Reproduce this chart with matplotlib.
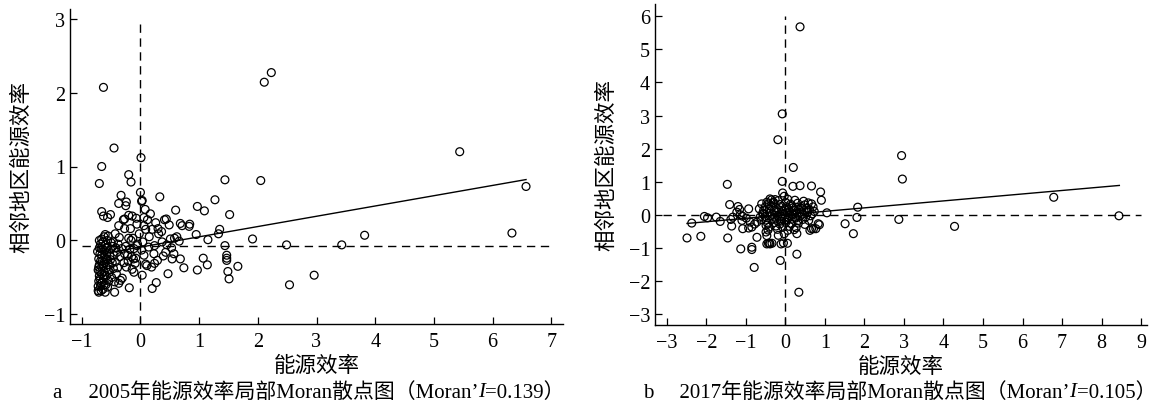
import numpy as np
import matplotlib
matplotlib.use("Agg")
import matplotlib.pyplot as plt

plt.rcParams['font.family'] = ['Liberation Serif', 'Noto Sans CJK SC']
plt.rcParams['axes.unicode_minus'] = True

# 2005 local Moran scatter (standardised efficiency, spatial lag)
pts_2005 = [
    # outliers / scattered
    (-0.63, 2.07), (2.11, 2.14), (2.23, 2.27), (-0.45, 1.25), (-0.66, 1.00),
    (-0.70, 0.77), (0.01, 1.12), (-0.20, 0.89), (-0.16, 0.79), (0.00, 0.65),
    (0.03, 0.54), (0.02, 0.53), (-0.33, 0.61), (-0.24, 0.52), (-0.37, 0.50),
    (-0.25, 0.47), (0.33, 0.59), (-0.66, 0.39), (-0.63, 0.33), (-0.56, 0.31),
    (-0.51, 0.35), (-0.37, 0.20), (-0.27, 0.29), (-0.20, 0.34), (-0.14, 0.33),
    (-0.07, 0.30), (0.06, 0.31), (0.17, 0.36), (-0.27, 0.16), (-0.17, 0.16),
    (-0.06, 0.22), (0.06, 0.20), (0.09, 0.15), (0.20, 0.15), (0.30, 0.16),
    (0.41, 0.28), (0.44, 0.29), (0.60, 0.41), (0.49, 0.21), (0.68, 0.23),
    (0.71, 0.20), (0.84, 0.22), (0.83, 0.19), (0.97, 0.46), (1.09, 0.40),
    (1.27, 0.55), (1.44, 0.82), (2.05, 0.81), (1.52, 0.35), (1.35, 0.15),
    (1.33, 0.09), (0.95, 0.08), (1.15, 0.01), (1.91, 0.02), (3.82, 0.07),
    (2.49, -0.06), (3.43, -0.06), (1.44, -0.07), (1.47, -0.20), (1.47, -0.24),
    (1.47, -0.27), (1.49, -0.42), (1.51, -0.52), (1.66, -0.35), (1.07, -0.24),
    (1.14, -0.33), (0.97, -0.40), (0.74, -0.37), (0.68, -0.25), (0.54, -0.25),
    (0.57, -0.18), (0.47, -0.45), (0.37, -0.02), (0.51, 0.02), (0.58, 0.03),
    (0.66, -0.01), (0.24, -0.31), (0.27, -0.57), (0.20, -0.65), (0.03, -0.47),
    (0.09, -0.32), (0.11, -0.34), (0.06, -0.20), (0.23, -0.18), (0.14, -0.09),
    (0.24, -0.07), (0.39, -0.21), (0.43, -0.16), (2.96, -0.47), (2.54, -0.60),
    (-0.19, -0.64), (-0.44, -0.70), (-0.71, -0.70), (-0.72, -0.68), (-0.11, -0.43),
    (-0.14, -0.39), (-0.34, -0.54), (-0.37, -0.58), (-0.31, -0.51), (-0.09, -0.31),
    (-0.21, -0.28), (-0.27, -0.18), (-0.11, -0.11), (-0.06, -0.07), (-0.20, 0.03),
    (-0.13, 0.03), (-0.43, 0.09), (-0.46, -0.02), (-0.40, -0.16), (-0.43, -0.29),
    (-0.46, -0.38), (-0.41, -0.45), (5.44, 1.20), (6.57, 0.73), (6.33, 0.10),
    (0.15, 0.05), (0.31, 0.09), (0.45, -0.06), (0.02, -0.13), (-0.02, 0.09),
    (0.12, 0.28), (0.26, 0.24), (0.36, 0.12), (0.19, -0.36), (0.29, -0.27),
    (-0.32, -0.11), (-0.24, -0.36), (-0.15, -0.22), (-0.36, 0.04), (-0.29, 0.28),
    (-0.08, -0.24), (0.04, -0.02), (0.53, -0.10), (0.62, 0.05), (0.08, 0.42),
    # dense cluster at the left
    (-0.72, -0.62), (-0.71, -0.55), (-0.70, -0.48), (-0.72, -0.40), (-0.70, -0.33),
    (-0.71, -0.25), (-0.69, -0.18), (-0.70, -0.10), (-0.68, -0.05), (-0.66, 0.02),
    (-0.67, -0.58), (-0.66, -0.45), (-0.66, -0.36), (-0.65, -0.28), (-0.66, -0.20),
    (-0.64, -0.12), (-0.64, -0.66), (-0.63, -0.52), (-0.62, -0.42), (-0.62, -0.30),
    (-0.61, -0.22), (-0.61, -0.14), (-0.60, -0.06), (-0.62, 0.05), (-0.59, -0.60),
    (-0.58, -0.48), (-0.58, -0.37), (-0.57, -0.26), (-0.57, -0.17), (-0.56, -0.09),
    (-0.56, 0.00), (-0.54, -0.55), (-0.53, -0.43), (-0.53, -0.33), (-0.52, -0.21),
    (-0.51, -0.12), (-0.50, -0.03), (-0.49, -0.50), (-0.48, -0.30), (-0.47, -0.08),
    (-0.60, 0.08), (-0.55, 0.06), (-0.64, -0.02), (-0.68, -0.28), (-0.69, -0.52),
    (-0.67, -0.68), (-0.60, -0.70), (-0.71, -0.36), (-0.69, -0.42), (-0.73, -0.15),
    (-0.67, -0.11), (-0.63, -0.34), (-0.65, -0.56), (-0.61, -0.47), (-0.59, -0.25),
    (-0.58, -0.10), (-0.55, -0.40), (-0.56, -0.63), (-0.51, -0.26), (-0.45, -0.20),
    (-0.42, -0.10), (-0.38, -0.05), (-0.35, -0.22), (-0.44, -0.56), (-0.39, -0.37),
    (-0.28, -0.30), (-0.25, -0.08), (-0.22, -0.20), (-0.18, -0.12), (-0.16, 0.00),
    (-0.12, -0.25), (-0.05, -0.05), (-0.70, 0.00), (-0.68, -0.62), (-0.62, -0.60),
]

# 2017 local Moran scatter
pts_2017 = [
    (0.37, 5.68), (-0.08, 3.05), (-0.19, 2.27), (0.20, 1.43), (-0.08, 1.01),
    (-1.47, 0.92), (0.19, 0.86), (0.37, 0.88), (0.66, 0.87), (0.89, 0.69),
    (0.91, 0.44), (1.05, 0.06), (1.83, 0.23), (1.81, -0.08), (1.51, -0.27),
    (1.72, -0.57), (-2.49, -0.70), (-2.37, -0.25), (-2.14, -0.65), (-2.05, -0.05),
    (-1.97, -0.09), (-1.75, -0.07), (-1.65, -0.20), (-1.46, -0.70), (-1.41, 0.31),
    (-1.38, -0.14), (-1.36, -0.34), (-1.20, 0.25), (-1.16, 0.16), (-1.09, -0.04),
    (-1.13, -1.03), (-1.08, -0.42), (-0.93, 0.18), (-0.85, -0.98), (-0.85, -1.05),
    (-0.79, -1.59), (-0.72, -0.68), (-0.13, -1.38), (-0.11, -0.88), (0.05, -0.86),
    (0.29, -1.19), (0.34, -2.34), (-0.40, -0.86), (-0.47, -0.88), (0.77, -0.42),
    (0.86, -0.30), (0.66, -0.42), (2.94, 1.79), (2.96, 1.08), (2.87, -0.14),
    (4.28, -0.35), (6.79, 0.53), (8.44, -0.03),
    (-1.33, -0.07), (-1.23, 0.08), (-1.14, 0.00), (-1.10, -0.17), (-0.99, -0.10),
    (-0.89, -0.22), (-0.93, -0.40), (-0.85, -0.37), (-0.78, -0.28), (-0.66, 0.18),
    (-0.60, 0.33), (-0.64, -0.07), (-0.56, 0.03), (-0.49, -0.32), (-0.47, -0.63),
    (-0.43, -0.86), (-0.34, -0.86), (-0.49, -0.52), (-0.72, -0.22), (-0.60, -0.15),
    (-0.39, 0.48), (-0.47, 0.38), (-0.30, 0.38), (-0.07, 0.66), (-0.03, 0.56),
    (-0.26, 0.46), (0.71, -0.42), (0.83, -0.27), (0.62, -0.47), (0.29, -0.57),
    (-0.03, -0.57), (-0.18, -0.62), (-0.39, -0.88), (-0.05, -0.85),
    # dense core around the origin
    (-0.35, 0.45), (-0.18, 0.43), (0.06, 0.47), (0.24, 0.44), (0.46, 0.41), (0.58, 0.36),
    (-0.44, 0.33), (-0.31, 0.36), (-0.14, 0.31), (0.01, 0.37), (0.13, 0.32), (0.31, 0.35),
    (0.49, 0.30), (0.66, 0.33), (-0.51, 0.24), (-0.37, 0.27), (-0.24, 0.22), (-0.09, 0.26),
    (0.03, 0.21), (0.16, 0.27), (0.27, 0.23), (0.41, 0.25), (0.54, 0.20), (0.70, 0.24),
    (-0.55, 0.14), (-0.41, 0.17), (-0.29, 0.12), (-0.17, 0.15), (-0.06, 0.11), (0.08, 0.16),
    (0.21, 0.13), (0.34, 0.17), (0.47, 0.12), (0.61, 0.15), (0.73, 0.10), (-0.58, 0.04),
    (-0.46, 0.06), (-0.33, 0.02), (-0.21, 0.07), (-0.07, 0.03), (0.05, 0.06), (0.18, 0.01),
    (0.29, 0.05), (0.43, 0.02), (0.56, 0.07), (0.68, 0.03), (-0.52, -0.05), (-0.39, -0.03),
    (-0.27, -0.07), (-0.13, -0.04), (0.00, -0.06), (0.12, -0.02), (0.24, -0.08), (0.37, -0.04),
    (0.51, -0.07), (0.64, -0.03), (-0.49, -0.16), (-0.35, -0.13), (-0.22, -0.17), (-0.10, -0.12),
    (0.04, -0.16), (0.17, -0.13), (0.31, -0.18), (0.44, -0.14), (0.59, -0.17), (-0.45, -0.26),
    (-0.29, -0.24), (-0.14, -0.28), (0.01, -0.23), (0.15, -0.27), (0.33, -0.25), (0.49, -0.29),
    (-0.41, -0.37), (-0.24, -0.34), (-0.07, -0.38), (0.10, -0.35), (0.27, -0.39), (-0.44, -0.46),
    (-0.20, -0.44), (0.06, -0.47), (0.22, -0.45), (-0.02, 0.17), (0.11, 0.08), (0.19, 0.21),
    (-0.11, -0.19), (0.26, -0.10), (0.36, 0.07), (-0.19, -0.02), (0.08, -0.09), (0.40, 0.20),
]

# fitted Moran lines: slope = Moran's I
fit_2005 = dict(intercept=-0.09, slope=0.139, x0=-0.60, x1=6.57)
fit_2017 = dict(intercept=0.0, slope=0.105, x0=-2.49, x1=8.45)

# reference (mean) lines
mean_2005 = (0.0, -0.07)
mean_2017 = (0.0, 0.0)

xticks_2005 = [-1, 0, 1, 2, 3, 4, 5, 6, 7]
yticks_2005 = [-1, 0, 1, 2, 3]
xticks_2017 = [-3, -2, -1, 0, 1, 2, 3, 4, 5, 6, 7, 8, 9]
yticks_2017 = [-3, -2, -1, 0, 1, 2, 3, 4, 5, 6]

ylabel = '相邻地区能源效率'
xlabel = '能源效率'
# caption pieces: (text, italic?)
cap_a = [('a\u3000 2005年能源效率局部Moran散点图（Moran’', False), ('I', True), ('=0.139）', False)]
cap_b = [('b\u3000 2017年能源效率局部Moran散点图（Moran’', False), ('I', True), ('=0.105）', False)]

fig = plt.figure(figsize=(11.56, 4.10), dpi=100)
ax1 = fig.add_axes([70/1156, 1-325/410, 493/1156, 315/410])
ax2 = fig.add_axes([655/1156, 1-326/410, 492/1156, 321/410])


def draw(ax, pts, fit, mean, xt, yt, xlim, ylim, hx, vtop):
    p = np.array(pts)
    ax.scatter(p[:, 0], p[:, 1], s=32, facecolors='none', edgecolors='black',
               linewidths=0.9, zorder=3)
    xs = np.array([fit['x0'], fit['x1']])
    ax.plot(xs, fit['intercept'] + fit['slope'] * xs, color='black', lw=1.0, zorder=4)
    ax.plot(hx, [mean[1], mean[1]], color='black', lw=1.0, ls=(0, (6, 4)), zorder=2)
    ax.plot([mean[0], mean[0]], [ylim[0], vtop], color='black', lw=1.0,
            ls=(0, (6, 4)), zorder=2)
    ax.set_xlim(*xlim)
    ax.set_ylim(*ylim)
    ax.set_xticks(xt)
    ax.set_yticks(yt)
    for s in ['top', 'right']:
        ax.spines[s].set_visible(False)
    for s in ['left', 'bottom']:
        ax.spines[s].set_linewidth(1.0)
    ax.tick_params(direction='in', length=5, width=0.9, labelsize=14.5)
    ax.tick_params(axis='x', pad=6)
    ax.set_ylabel(ylabel, fontsize=15.5)
    ax.yaxis.set_label_coords(-0.077, 0.5)
    ax.set_xlabel(xlabel, fontsize=15.5)
    ax.xaxis.set_label_coords(0.5, -0.1)


draw(ax1, pts_2005, fit_2005, mean_2005, xticks_2005, yticks_2005,
     (-1.2, 7.2), (-1.13, 3.13), [-1, 7], 3.0)
draw(ax2, pts_2017, fit_2017, mean_2017, xticks_2017, yticks_2017,
     (-3.3, 9.15), (-3.33, 6.37), [-3.1, 9.0], 6.0)

renderer = fig.canvas.get_renderer()


def caption(x_px, y_px, parts):
    # write the caption piece by piece so the "I" can be italic
    x = x_px
    for txt, italic in parts:
        t = fig.text(x / 1156, 1 - y_px / 410, txt, ha='left', va='center',
                     fontsize=15, style='italic' if italic else 'normal')
        bb = t.get_window_extent(renderer)
        x = bb.x1


caption(53, 393, cap_a)
caption(643, 393, cap_b)

fig.savefig('out.png', dpi=100)
